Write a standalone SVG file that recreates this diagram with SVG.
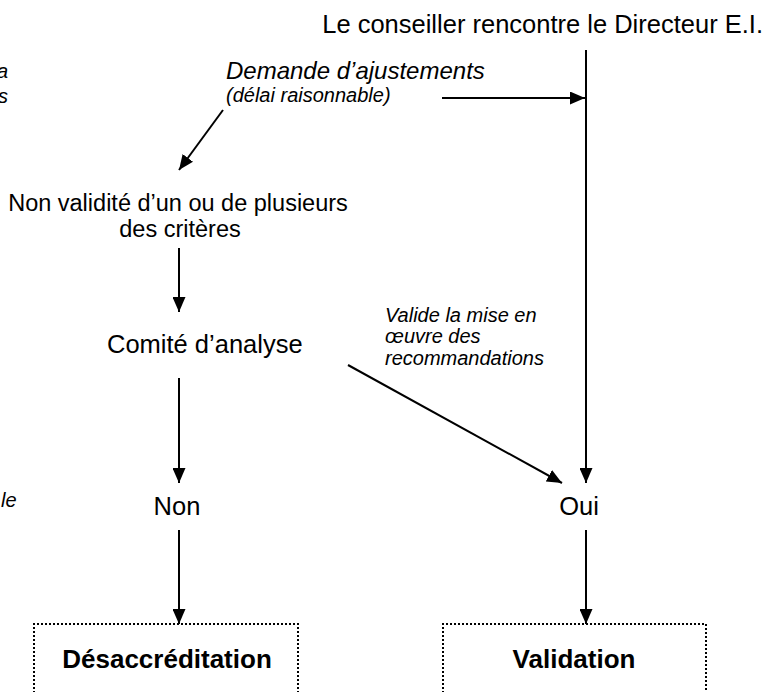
<svg xmlns="http://www.w3.org/2000/svg" width="766" height="692" viewBox="0 0 766 692">
<defs>
<marker id="ah" viewBox="0 0 15 13" refX="15" refY="6.5" markerWidth="15" markerHeight="13" markerUnits="userSpaceOnUse" orient="auto">
<path d="M0,0 L15,6.5 L0,13 Z" fill="#000"/>
</marker>
<style>
text{font-family:"Liberation Sans",Arial,sans-serif;fill:#000}
.n{font-size:25.5px}
.m{font-size:23.5px}
.i{font-style:italic;font-size:24px}
.s{font-style:italic;font-size:20px}
.b{font-weight:bold;font-size:26px}
.c{text-anchor:middle}
.ln{stroke:#000;stroke-width:2;fill:none}
.box{stroke:#000;stroke-width:2;stroke-dasharray:2 2;fill:none}
</style>
</defs>
<rect width="766" height="692" fill="#fff"/>
<g id="edge-labels">
<text class="s" x="-3" y="78">a</text>
<text class="s" x="-2" y="103">s</text>
<text class="s" x="1" y="507">le</text>
</g>
<g id="start"><text class="n" x="763" y="33" text-anchor="end">Le conseiller rencontre le Directeur E.I.</text></g>
<g id="demande">
<text class="i" x="226" y="79">Demande d’ajustements</text>
<text class="s" x="226" y="102">(délai raisonnable)</text>
</g>
<g id="nonvalid">
<text class="m c" x="178" y="211">Non validité d’un ou de plusieurs</text>
<text class="m c" x="180" y="237">des critères</text>
</g>
<g id="comite"><text class="n" x="107" y="353">Comité d’analyse</text></g>
<g id="valide">
<text class="s" x="385" y="322">Valide la mise en</text>
<text class="s" x="385" y="343">œuvre des</text>
<text class="s" x="385" y="365">recommandations</text>
</g>
<g id="non"><text class="n c" x="177" y="515">Non</text></g>
<g id="oui"><text class="n c" x="579" y="515">Oui</text></g>
<g id="desaccreditation">
<path class="box" d="M34,693 V624 H298 V693"/>
<text class="b c" x="167" y="668">Désaccréditation</text>
</g>
<g id="validation">
<path class="box" d="M443,693 V624 H706 V693"/>
<text class="b c" x="574" y="668">Validation</text>
</g>
<g id="connectors">
<line class="ln" x1="586" y1="50" x2="586" y2="483" marker-end="url(#ah)"/>
<line class="ln" x1="442" y1="98" x2="585" y2="98" marker-end="url(#ah)"/>
<line class="ln" x1="223" y1="110" x2="179" y2="170" marker-end="url(#ah)"/>
<line class="ln" x1="179" y1="248" x2="179" y2="312" marker-end="url(#ah)"/>
<line class="ln" x1="348" y1="365" x2="562" y2="483" marker-end="url(#ah)"/>
<line class="ln" x1="179" y1="378" x2="179" y2="483" marker-end="url(#ah)"/>
<line class="ln" x1="179" y1="530" x2="179" y2="624" marker-end="url(#ah)"/>
<line class="ln" x1="586" y1="530" x2="586" y2="624" marker-end="url(#ah)"/>
</g>
</svg>
